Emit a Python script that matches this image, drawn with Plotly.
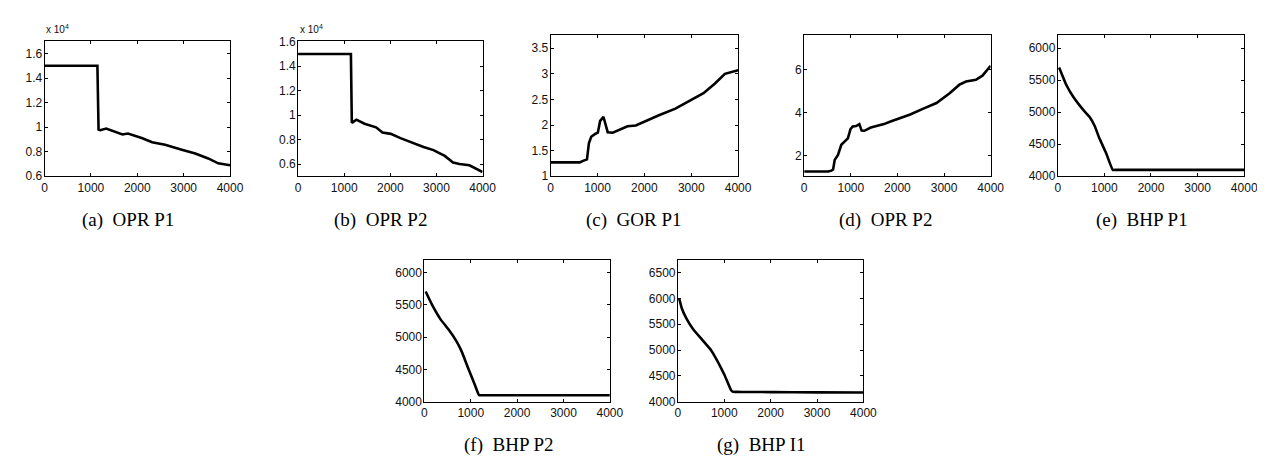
import plotly.graph_objects as go

W, H = 1265, 457

# ---- data ----
t_a = [0, 1140, 1165, 1200, 1330, 1680, 1800, 2110, 2320, 2600, 2960, 3250, 3530, 3745, 4000]
opr_p1 = [15000, 15000, 9800, 9750, 9880, 9400, 9480, 9100, 8770, 8560, 8160, 7850, 7450, 7050, 6900]

t_b = [0, 1145, 1165, 1200, 1265, 1440, 1690, 1830, 2010, 2220, 2510, 2720, 2935, 3180, 3360, 3500, 3715, 3860, 4000]
opr_p2 = [15000, 15000, 9370, 9450, 9630, 9300, 9000, 8570, 8470, 8120, 7670, 7400, 7140, 6660, 6130, 6000, 5900, 5650, 5350]

t_c = [0, 620, 690, 775, 817, 866, 958, 1007, 1056, 1127, 1169, 1218, 1324, 1465, 1641, 1817, 2028, 2310, 2662, 2944, 3261, 3507, 3718, 4000]
gor_p1 = [1.27, 1.27, 1.30, 1.33, 1.65, 1.77, 1.83, 1.85, 2.08, 2.16, 2.02, 1.86, 1.85, 1.90, 1.976, 1.99, 2.08, 2.19, 2.32, 2.46, 2.62, 2.81, 3.0, 3.07]

t_d = [0, 514, 585, 620, 655, 725, 796, 866, 937, 993, 1042, 1113, 1183, 1232, 1289, 1430, 1711, 1852, 2063, 2275, 2556, 2838, 3120, 3331, 3472, 3683, 3824, 4000]
gor_p2 = [1.26, 1.26, 1.30, 1.35, 1.80, 2.03, 2.50, 2.63, 2.80, 3.23, 3.35, 3.37, 3.46, 3.16, 3.15, 3.30, 3.46, 3.58, 3.73, 3.91, 4.18, 4.44, 4.89, 5.29, 5.44, 5.52, 5.71, 6.17]

t_e = [30, 190, 332, 543, 684, 790, 896, 1037, 1180, 1250, 1500, 2500, 4000]
bhp_p1 = [5700, 5417, 5241, 5040, 4925, 4789, 4588, 4362, 4100, 4100, 4100, 4100, 4100]

t_f = [28, 170, 346, 523, 700, 806, 947, 1088, 1180, 1250, 1500, 2500, 4000]
bhp_p2 = [5708, 5496, 5280, 5118, 4927, 4776, 4514, 4262, 4100, 4100, 4100, 4100, 4100]

t_g = [28, 85, 191, 333, 545, 722, 864, 1005, 1147, 1190, 1260, 1500, 2000, 3000, 4000]
bhp_i1 = [6000, 5807, 5600, 5398, 5177, 4989, 4768, 4516, 4220, 4190, 4189, 4188, 4185, 4180, 4176]

captions = ["(a)  OPR P1", "(b)  OPR P2", "(c)  GOR P1", "(d)  OPR P2",
            "(e)  BHP P1", "(f)  BHP P2", "(g)  BHP I1"]

x_ticks = [0, 1000, 2000, 3000, 4000]
yt_a = [6000, 8000, 10000, 12000, 14000, 16000]
yl_a = ["0.6", "0.8", "1", "1.2", "1.4", "1.6"]
yt_b = [6000, 8000, 10000, 12000, 14000, 16000]
yl_b = ["0.6", "0.8", "1", "1.2", "1.4", "1.6"]
yt_c = [1, 1.5, 2, 2.5, 3, 3.5]
yt_d = [2, 4, 6]
yt_e = [4000, 4500, 5000, 5500, 6000]
yt_g = [4000, 4500, 5000, 5500, 6000, 6500]

# ---- layout (pixel boxes) ----
boxes = [  # left, right, top, bottom
    (34, 222, 28, 167),
    (291, 478, 28, 167),
    (547, 737, 22, 167),
    (804, 993, 22, 167),
    (1061, 1250, 22, 167),
    (419, 607, 253, 399),
    (676, 864, 253, 399),
]
yranges = [[6000, 17000], [5000, 16050], [1, 3.75], [1.04, 7.58], [4000, 6200], [4000, 6200], [4000, 6750]]
series = [(t_a, opr_p1), (t_b, opr_p2), (t_c, gor_p1), (t_d, gor_p2), (t_e, bhp_p1), (t_f, bhp_p2), (t_g, bhp_i1)]
shapes_ = ["linear", "linear", "linear", "linear", "spline", "spline", "spline"]
yticks = [(yt_a, yl_a), (yt_b, yl_b), (yt_c, None), (yt_d, None), (yt_e, None), (yt_e, None), (yt_g, None)]
cap_pos = [(119, 212), (375, 212), (631, 212), (886, 212), (1146, 212), (505, 444), (761, 444)]

fig = go.Figure()
tickfont = dict(family="Liberation Sans, Arial", size=12, color="#111")
annotations = []
for i, ((l, r, t, b), (xs, ys)) in enumerate(zip(boxes, series)):
    n = "" if i == 0 else str(i + 1)
    line = dict(color="black", width=2.6, shape=shapes_[i])
    if shapes_[i] == "spline":
        line["smoothing"] = 0.4
    fig.add_trace(go.Scatter(x=xs, y=ys, mode="lines", line=line,
                             xaxis="x" + n, yaxis="y" + n, showlegend=False))
    ax = dict(domain=[l / W, r / W], range=[0, 4000], tickvals=x_ticks, ticks="inside", ticklen=3,
              tickcolor="black", showline=True, linecolor="black", linewidth=1, mirror="ticks",
              showgrid=False, zeroline=False, tickfont=tickfont, anchor="y" + n, fixedrange=True)
    tv, tl = yticks[i]
    ay = dict(domain=[1 - b / H, 1 - t / H], range=yranges[i], tickvals=tv, ticks="inside", ticklen=3,
              tickcolor="black", showline=True, linecolor="black", linewidth=1, mirror="ticks",
              showgrid=False, zeroline=False, tickfont=tickfont, anchor="x" + n, fixedrange=True,
              ticklabelstandoff=-1)
    if tl is not None:
        ay["ticktext"] = tl
    fig.update_layout(**{"xaxis" + n: ax, "yaxis" + n: ay})
    cx, cy = cap_pos[i]
    annotations.append(dict(text=captions[i], x=cx / W, y=1 - cy / H, xref="paper", yref="paper",
                            xanchor="center", yanchor="middle", showarrow=False,
                            font=dict(family="Liberation Serif, Times New Roman", size=19, color="black")))

for xl in (33, 291):
    annotations.append(dict(text="x 10<sup>4</sup>", x=xl / W, y=1 - 24 / H, xref="paper", yref="paper",
                            xanchor="left", yanchor="bottom", showarrow=False,
                            font=dict(family="Liberation Sans, Arial", size=10, color="#111")))

fig.update_layout(width=W, height=H, margin=dict(l=0, r=0, t=0, b=0),
                  paper_bgcolor="white", plot_bgcolor="white", annotations=annotations)
fig.write_html("out.html")
